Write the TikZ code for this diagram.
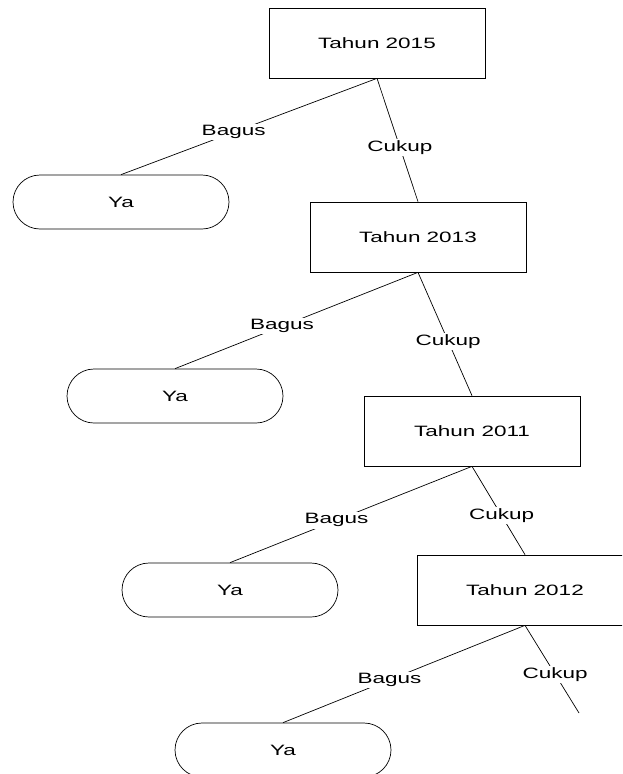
\documentclass[tikz,border=0pt]{standalone}
\usepackage{fontspec}
\setmainfont[FakeStretch=1.5]{Liberation Sans}

\begin{document}
\begin{tikzpicture}[x=1pt, y=-1pt, line width=0.7pt,
  every node/.style={font=\fontsize{15}{18}\selectfont},
  tahun/.style={draw, minimum width=216pt, minimum height=70pt, inner sep=0pt},
  hasil/.style={draw, rounded corners=27pt, minimum width=216pt, minimum height=54pt, inner sep=0pt},
  nilai/.style={fill=white, inner sep=1.5pt, pos=0.56}]
\useasboundingbox (0,0) rectangle (622,774);
\clip (0,0) rectangle (622,774);
\node[tahun] (t15) at (377,43) {Tahun 2015};
\node[hasil] (ya1) at (121,202) {Ya};
\node[tahun] (t13) at (418,237) {Tahun 2013};
\node[hasil] (ya2) at (175,396) {Ya};
\node[tahun] (t11) at (472,431) {Tahun 2011};
\node[hasil] (ya3) at (230,590) {Ya};
\node[tahun] (t12) at (525,590) {Tahun 2012};
\node[hasil] (ya4) at (283,750) {Ya};
\coordinate (end) at (579,713);
\draw (t15.south) -- node[nilai]{Bagus} (ya1.north);
\draw (t15.south) -- node[nilai]{Cukup} (t13.north);
\draw (t13.south) -- node[nilai]{Bagus} (ya2.north);
\draw (t13.south) -- node[nilai]{Cukup} (t11.north);
\draw (t11.south) -- node[nilai]{Bagus} (ya3.north);
\draw (t11.south) -- node[nilai]{Cukup} (t12.north);
\draw (t12.south) -- node[nilai]{Bagus} (ya4.north);
\draw (t12.south) -- node[nilai]{Cukup} (end);
\end{tikzpicture}
\end{document}
